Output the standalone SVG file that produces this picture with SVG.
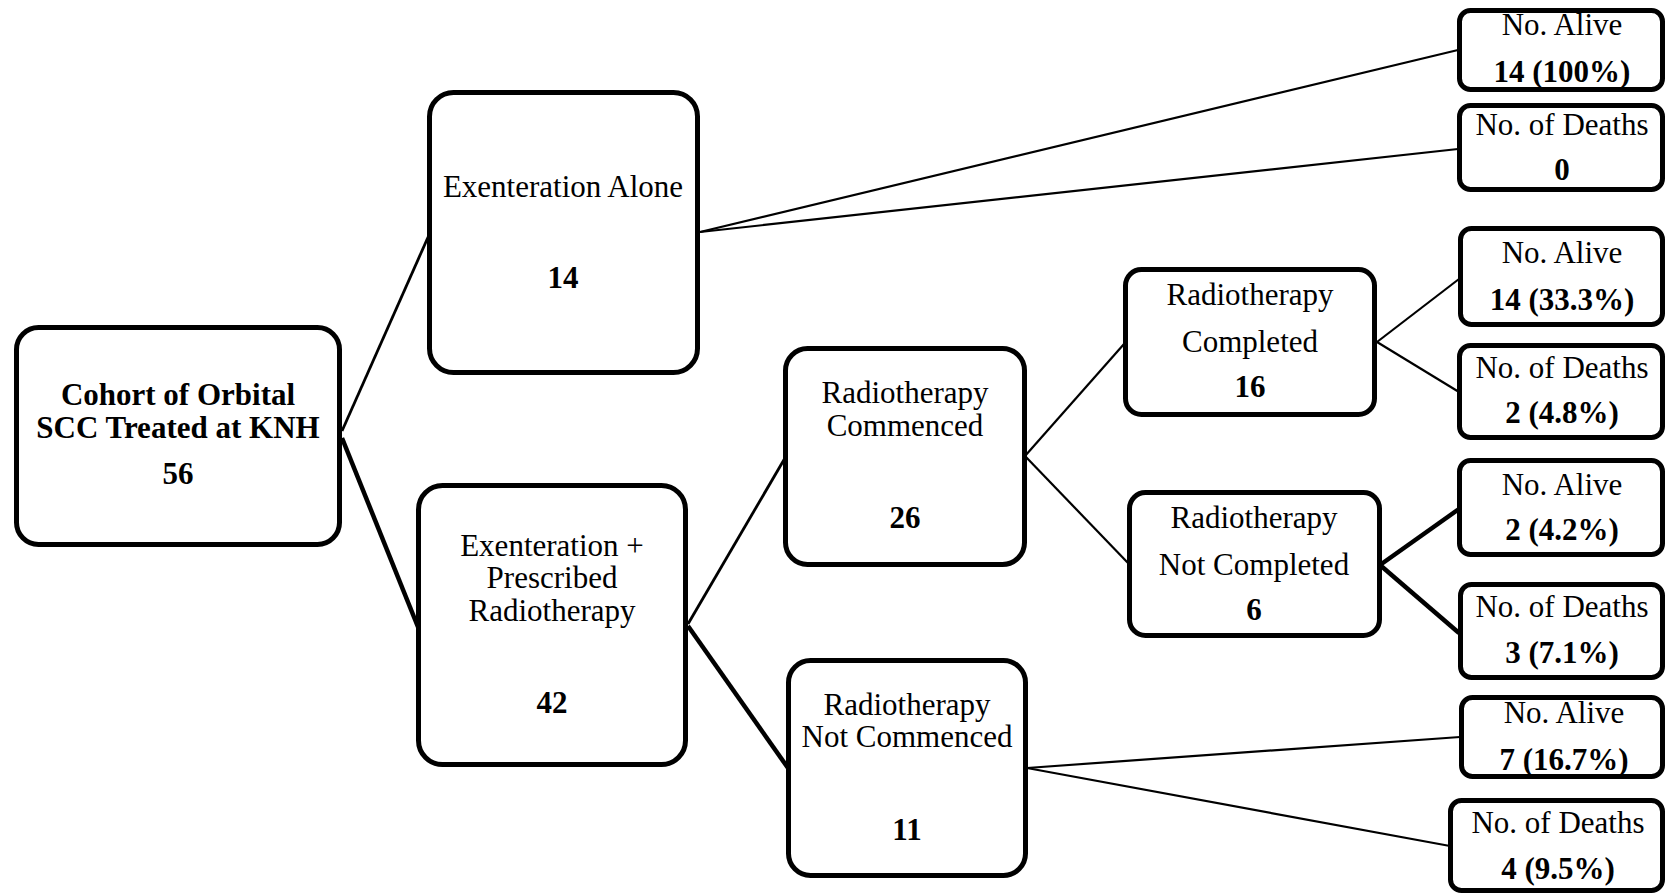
<svg xmlns="http://www.w3.org/2000/svg" width="1667" height="894" viewBox="0 0 1667 894">
<style>
  .box { fill: #ffffff; stroke: #000000; stroke-width: 5; }
  .t { font-family: "Liberation Serif", "Times New Roman", serif; font-size: 31px; fill: #000000; text-anchor: middle; }
  .b { font-weight: bold; }
  .thin { stroke: #000000; stroke-width: 2.2; fill: none; }
  .mid { stroke: #000000; stroke-width: 2.8; fill: none; }
  .thick { stroke: #000000; stroke-width: 4.5; fill: none; }
</style>
<rect x="0" y="0" width="1667" height="894" fill="#ffffff"/>
<g id="connectors">
  <line class="mid" x1="342" y1="431" x2="429" y2="235"/>
  <line class="thick" x1="342" y1="438" x2="418" y2="627"/>
  <line class="thin" x1="700" y1="232" x2="1458" y2="50"/>
  <line class="thin" x1="700" y1="232" x2="1458" y2="149"/>
  <line class="mid" x1="688" y1="624" x2="785" y2="458"/>
  <line class="thick" x1="688" y1="626" x2="788" y2="768"/>
  <line class="thin" x1="1025" y1="456" x2="1124" y2="344"/>
  <line class="thin" x1="1025" y1="456" x2="1128" y2="563"/>
  <line class="thin" x1="1377" y1="342" x2="1459" y2="279"/>
  <line class="thin" x1="1377" y1="342" x2="1459" y2="392"/>
  <line class="thick" x1="1380" y1="565" x2="1459" y2="509"/>
  <line class="thick" x1="1380" y1="565" x2="1459" y2="633"/>
  <line class="thin" x1="1027" y1="768" x2="1460" y2="737"/>
  <line class="thin" x1="1027" y1="768" x2="1450" y2="846"/>
</g>
<g id="root">
  <rect class="box" x="16.5" y="327.5" width="323" height="217" rx="22"/>
  <text class="t b" x="178" y="405">Cohort of Orbital</text>
  <text class="t b" x="178" y="438">SCC Treated at KNH</text>
  <text class="t b" x="178" y="484">56</text>
</g>
<g id="exent-alone">
  <rect class="box" x="429.5" y="92.5" width="268" height="280" rx="24"/>
  <text class="t" x="563" y="197">Exenteration Alone</text>
  <text class="t b" x="563" y="288">14</text>
</g>
<g id="exent-rt">
  <rect class="box" x="418.5" y="485.5" width="267" height="279" rx="24"/>
  <text class="t" x="552" y="556">Exenteration +</text>
  <text class="t" x="552" y="588">Prescribed</text>
  <text class="t" x="552" y="621">Radiotherapy</text>
  <text class="t b" x="552" y="713">42</text>
</g>
<g id="rt-commenced">
  <rect class="box" x="785.5" y="348.5" width="239" height="216" rx="22"/>
  <text class="t" x="905" y="403">Radiotherapy</text>
  <text class="t" x="905" y="436">Commenced</text>
  <text class="t b" x="905" y="528">26</text>
</g>
<g id="rt-not-commenced">
  <rect class="box" x="788.5" y="660.5" width="237" height="215" rx="22"/>
  <text class="t" x="907" y="715">Radiotherapy</text>
  <text class="t" x="907" y="747">Not Commenced</text>
  <text class="t b" x="907" y="840">11</text>
</g>
<g id="rt-completed">
  <rect class="box" x="1125.5" y="269.5" width="249" height="145" rx="16"/>
  <text class="t" x="1250" y="305">Radiotherapy</text>
  <text class="t" x="1250" y="352">Completed</text>
  <text class="t b" x="1250" y="397">16</text>
</g>
<g id="rt-not-completed">
  <rect class="box" x="1129.5" y="492.5" width="250" height="143" rx="16"/>
  <text class="t" x="1254" y="528">Radiotherapy</text>
  <text class="t" x="1254" y="575">Not Completed</text>
  <text class="t b" x="1254" y="620">6</text>
</g>
<g id="alive-1">
  <rect class="box" x="1459.5" y="10.5" width="203" height="79" rx="11"/>
  <text class="t" x="1562" y="35">No. Alive</text>
  <text class="t b" x="1562" y="82">14 (100%)</text>
</g>
<g id="deaths-1">
  <rect class="box" x="1459.5" y="105.5" width="203" height="84" rx="11"/>
  <text class="t" x="1562" y="135">No. of Deaths</text>
  <text class="t b" x="1562" y="180">0</text>
</g>
<g id="alive-2">
  <rect class="box" x="1460.5" y="228.5" width="202" height="96" rx="11"/>
  <text class="t" x="1562" y="263">No. Alive</text>
  <text class="t b" x="1562" y="310">14 (33.3%)</text>
</g>
<g id="deaths-2">
  <rect class="box" x="1459.5" y="345.5" width="203" height="92" rx="11"/>
  <text class="t" x="1562" y="378">No. of Deaths</text>
  <text class="t b" x="1562" y="423">2 (4.8%)</text>
</g>
<g id="alive-3">
  <rect class="box" x="1459.5" y="460.5" width="203" height="94" rx="11"/>
  <text class="t" x="1562" y="495">No. Alive</text>
  <text class="t b" x="1562" y="540">2 (4.2%)</text>
</g>
<g id="deaths-3">
  <rect class="box" x="1460.5" y="584.5" width="202" height="93" rx="11"/>
  <text class="t" x="1562" y="617">No. of Deaths</text>
  <text class="t b" x="1562" y="663">3 (7.1%)</text>
</g>
<g id="alive-4">
  <rect class="box" x="1461.5" y="697.5" width="201" height="79" rx="11"/>
  <text class="t" x="1564" y="723">No. Alive</text>
  <text class="t b" x="1564" y="770">7 (16.7%)</text>
</g>
<g id="deaths-4">
  <rect class="box" x="1450.5" y="800.5" width="212" height="90" rx="11"/>
  <text class="t" x="1558" y="833">No. of Deaths</text>
  <text class="t b" x="1558" y="879">4 (9.5%)</text>
</g>
</svg>
